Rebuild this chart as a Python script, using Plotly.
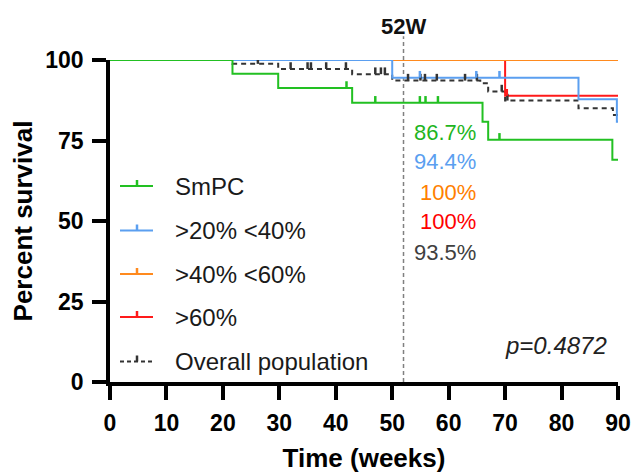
import plotly.graph_objects as go

# ---------------- data ----------------
smpc_t = [21.7, 29.8, 42.9, 66.0, 67.0, 89.0]
smpc_s = [95.7, 91.3, 86.7, 80.8, 75.2, 69.0]
smpc_c = [20.8, 41.9, 47.0, 54.9, 55.9, 58.1, 69.0]

b2040_t = [50.0, 83.0, 89.8]
b2040_s = [94.5, 87.8, 80.8]
b2040_c = [25.9, 31.9, 34.9, 38.0, 48.0, 54.9, 64.9, 69.0]

b4060_t = []
b4060_s = []
b4060_c = [53.0, 63.0]

b60_t = [70.0]
b60_s = [88.9]
b60_c = [35.8, 48.9, 70.3]

all_t = [21.7, 29.8, 42.9, 50.0, 65.6, 67.0, 70.0, 83.0, 89.1]
all_s = [98.8, 97.2, 95.6, 93.6, 92.8, 90.2, 87.4, 85.0, 82.9]
all_c = [26.2, 32.0, 35.0, 35.6, 38.3, 41.8, 47.0, 48.0, 48.7,
         52.8, 55.0, 55.8, 57.9, 62.9, 65.0, 69.4, 70.4]

end_t = 90.0
names = ["SmPC", ">20% <40%", ">40% <60%", ">60%", "Overall population"]
colors = ["#22c022", "#5b9ff0", "#ff8a1e", "#ff1a1a", "#333333"]
pct_labels = ["86.7%", "94.4%", "100%", "100%", "93.5%"]
pct_colors = ["#1fb51f", "#5b9ff0", "#ff8000", "#ff0000", "#404040"]
p_text = "p=0.4872"
landmark = 52

groups = [(smpc_t, smpc_s, smpc_c), (b2040_t, b2040_s, b2040_c),
          (b4060_t, b4060_s, b4060_c), (b60_t, b60_s, b60_c),
          (all_t, all_s, all_c)]

FONT = "Liberation Sans, Arial, sans-serif"
TICKH = 2.1  # censor tick height in % units


def surv_at(ts, ss, t):
    v = 100.0
    for ti, si in zip(ts, ss):
        if t >= ti:
            v = si
    return v


fig = go.Figure()
draw_order = [4, 3, 2, 1, 0]
for i in draw_order:
    ts, ss, cs = groups[i]
    xs = [0] + ts + [end_t]
    ys = [100] + ss + [ss[-1] if ss else 100]
    dash = "5px,4px" if i == 4 else "solid"
    fig.add_trace(go.Scatter(x=xs, y=ys, mode="lines", line_shape="hv",
                             line=dict(color=colors[i], width=2, dash=dash),
                             cliponaxis=False, showlegend=False, hoverinfo="skip"))
for i in draw_order:
    ts, ss, cs = groups[i]
    cx, cy = [], []
    for c in cs:
        s = surv_at(ts, ss, c)
        cx += [c, c, None]
        cy += [s, s + TICKH, None]
    fig.add_trace(go.Scatter(x=cx, y=cy, mode="lines",
                             line=dict(color=colors[i], width=2.5),
                             cliponaxis=False, showlegend=False, hoverinfo="skip"))

# landmark line
fig.add_shape(type="line", xref="x", yref="paper", x0=landmark, x1=landmark,
              y0=0, y1=1.074, line=dict(color="#808080", width=1.5, dash="4px,3px"),
              layer="below")
fig.add_annotation(x=landmark, xref="x", y=1.103, yref="paper", text="<b>52W</b>",
                   showarrow=False, font=dict(family=FONT, size=22, color="#111"),
                   yanchor="middle")

# percent labels at 52W
pct_y = [77.5, 68.5, 58.9, 49.8, 40.3]
for lab, col, yy in zip(pct_labels, pct_colors, pct_y):
    fig.add_annotation(x=65.2, y=yy, xref="x", yref="y", text=lab, showarrow=False,
                       xanchor="right", yanchor="middle",
                       font=dict(family=FONT, size=22, color=col))

fig.add_annotation(x=88.4, y=11.2, xref="x", yref="y", text="<i>" + p_text + "</i>",
                   showarrow=False, xanchor="right", yanchor="middle",
                   font=dict(family=FONT, size=24, color="#222"))

# custom legend (paper coordinates)
L, W, T, H = 110, 508, 60, 322
def px(x):
    return (x - L) / W
def py(y):
    return (T + H - y) / H

leg_rows = [186, 230.5, 274, 317, 361.5]
for i, (nm, col, yy) in enumerate(zip(names, colors, leg_rows)):
    dash = "4px,3px" if i == 4 else "solid"
    fig.add_shape(type="line", xref="paper", yref="paper", x0=px(120), x1=px(153),
                  y0=py(yy), y1=py(yy), line=dict(color=col, width=2, dash=dash))
    fig.add_shape(type="line", xref="paper", yref="paper", x0=px(137), x1=px(137),
                  y0=py(yy), y1=py(yy - 6), line=dict(color=col, width=2.5))
    fig.add_annotation(x=px(173), y=py(yy), xref="paper", yref="paper", text=nm,
                       showarrow=False, xanchor="left", yanchor="middle",
                       font=dict(family=FONT, size=24, color="#1a1a1a"))

axis_common = dict(showline=True, linewidth=3.5, linecolor="black", ticks="outside",
                   ticklen=14, tickwidth=3.5, tickcolor="black", showgrid=False,
                   zeroline=False, mirror=False, automargin=False, ticklabelstandoff=4,
                   tickfont=dict(family=FONT, size=23, color="black", weight="bold"))

fig.update_layout(
    width=633, height=473, margin=dict(l=110, r=15, t=60, b=91),
    paper_bgcolor="white", plot_bgcolor="white", showlegend=False,
    xaxis=dict(range=[0, 90], tickvals=list(range(0, 91, 10)),
               title=dict(text="Time (weeks)", standoff=16,
                          font=dict(family=FONT, size=26, color="black", weight="bold")),
               **axis_common),
    yaxis=dict(range=[0, 100], tickvals=[0, 25, 50, 75, 100],
               title=dict(text="Percent survival", standoff=6,
                          font=dict(family=FONT, size=26, color="black", weight="bold")),
               **axis_common),
)

fig.write_html("out.html")
